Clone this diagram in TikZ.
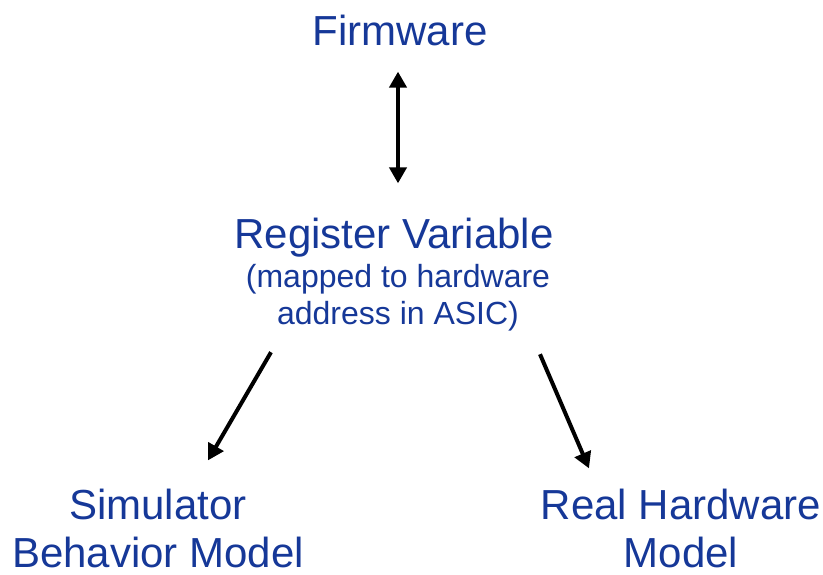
\documentclass[tikz,border=0pt]{standalone}
\usepackage{fontspec}
\setmainfont{Liberation Sans}
\usetikzlibrary{arrows.meta}
\definecolor{titleblue}{RGB}{22,56,152}

\begin{document}
\begin{tikzpicture}[x=1pt,y=-1pt,
    big/.style={text=titleblue,font=\fontsize{42}{48}\selectfont,inner sep=0pt,align=center},
    small/.style={text=titleblue,font=\fontsize{32}{37}\selectfont,inner sep=0pt,align=center},
    arr/.style={line width=4pt,-{Triangle[length=16pt,width=17pt]}}]
    \useasboundingbox (0,0) rectangle (823,575);
    \node[big,anchor=base] (fw) at (400,46) {Firmware};
    \node[big,anchor=base] (reg) at (394,249) {Register Variable};
    \node[small,anchor=north] (sub) at (398,264) {(mapped to hardware\\address in ASIC)};
    \node[big] (sim) at (158,528) {Simulator\\Behavior Model};
    \node[big] (real) at (681,528) {Real Hardware\\Model};
    % connectors
    \draw[arr,{Triangle[length=16pt,width=17pt]}-{Triangle[length=16pt,width=17pt]}] ([xshift=-2pt,yshift=-25pt]fw.south) -- ([xshift=4pt,yshift=35pt]reg.north);
    \draw[arr] ([xshift=-127pt,yshift=-21pt]sub.south) -- ([xshift=50pt,yshift=28pt]sim.north);
    \draw[arr] ([xshift=142pt,yshift=-23pt]sub.south) -- ([xshift=-92pt,yshift=20pt]real.north);
\end{tikzpicture}
\end{document}
